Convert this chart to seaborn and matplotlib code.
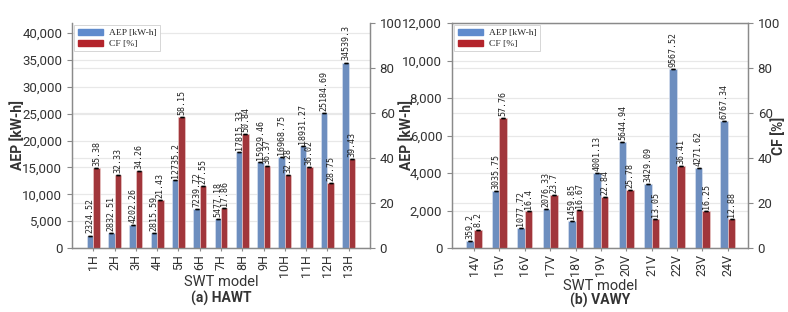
import matplotlib
matplotlib.use("Agg")
import matplotlib.pyplot as plt
import seaborn as sns
import pandas as pd
from matplotlib.patches import Patch

# ---- data ----
hawt_models = ["1H", "2H", "3H", "4H", "5H", "6H", "7H", "8H", "9H", "10H", "11H", "12H", "13H"]
hawt_aep = [2324.52, 2832.51, 4202.26, 2815.59, 12735.2, 7239.72, 5477.18, 17815.33,
            15929.46, 16968.75, 18931.27, 25184.69, 34539.3]
hawt_cf = [35.38, 32.33, 34.26, 21.43, 58.15, 27.55, 17.86, 50.84, 36.37, 32.28, 36.02, 28.75, 39.43]

vawt_models = ["14V", "15V", "16V", "17V", "18V", "19V", "20V", "21V", "22V", "23V", "24V"]
vawt_aep = [359.2, 3035.75, 1077.72, 2076.33, 1459.85, 4001.13, 5644.94, 3429.09, 9567.52, 4271.62, 6767.34]
vawt_cf = [8.2, 57.76, 16.4, 23.7, 16.67, 22.84, 25.78, 13.05, 36.41, 16.25, 12.88]

series_names = ["AEP [kW-h]", "CF [%]"]
panel_titles = ["(a) HAWT", "(b) VAWY"]

BLUE = "#5f8bcd"
RED = "#b3242b"
SPINE = "#8a8a8a"
TXT = "#333333"
GRID = "#e8e8e8"

sns.set_style("white")
plt.rcParams["font.family"] = ["Roboto", "DejaVu Sans"]

fig = plt.figure(figsize=(7.88, 3.12), dpi=100)
ax_a = fig.add_axes([72/788, 1-248/312, (370-72)/788, (248-23)/312])
ax_b = fig.add_axes([452/788, 1-248/312, (748-452)/788, (248-23)/312])


def panel(ax, models, aep, cf, ymax, yticks, xlim, title, show_cf_label, top_spine, xlabel_y, title_y):
    df_aep = pd.DataFrame({"model": models, "value": aep, "series": series_names[0]})
    df_cf = pd.DataFrame({"model": models, "value": cf, "series": series_names[1]})
    ax2 = ax.twinx()
    sns.barplot(data=df_aep, x="model", y="value", hue="series", hue_order=series_names,
                order=models, dodge=True, width=0.6, palette=[BLUE, RED], ax=ax,
                edgecolor="#dfe6f3", linewidth=0.4, legend=False, zorder=2)
    sns.barplot(data=df_cf, x="model", y="value", hue="series", hue_order=series_names,
                order=models, dodge=True, width=0.6, palette=[BLUE, RED], ax=ax2,
                edgecolor="#f0d0d0", linewidth=0.4, legend=False, zorder=2)
    ax.set_ylim(0, ymax)
    ax2.set_ylim(0, 100)
    ax.set_xlim(*xlim)
    ax.set_yticks(yticks)
    ax.set_yticklabels([f"{t:,}" for t in yticks])
    ax2.set_yticks([0, 20, 40, 60, 80, 100])

    for a, vals in ((ax, aep), (ax2, cf)):
        for cont in a.containers:
            if len(cont) == len(vals):
                xs = [p.get_x() + p.get_width()/2 for p in cont]
                hs = [p.get_height() for p in cont]
                a.errorbar(xs, hs, yerr=[0]*len(xs), fmt="none", ecolor="black",
                           capsize=1.3, capthick=1.0, zorder=3)
                a.bar_label(cont, labels=[str(v) for v in vals], rotation=90, padding=1.5,
                            fontsize=6, family="DejaVu Sans Mono", color="#222222")

    # gridlines (left ticks + right ticks)
    ax.grid(False)
    ax2.grid(False)
    for t in yticks:
        ax.axhline(t, color=GRID, lw=0.9, zorder=0)
    for t in [20, 40, 60, 80]:
        ax.axhline(t/100*ymax, color=GRID, lw=0.9, zorder=0)

    for a in (ax, ax2):
        for s in a.spines.values():
            s.set_color(SPINE)
            s.set_linewidth(0.9)
        a.spines["top"].set_visible(top_spine)
        a.tick_params(axis="both", colors=SPINE, labelcolor=TXT, labelsize=9.5,
                      length=3.5, width=0.8, direction="out")
    ax.tick_params(axis="y", left=True)
    ax2.tick_params(axis="y", right=True)
    ax.tick_params(axis="x", bottom=True, rotation=90, labelsize=9, length=2.5, pad=2)
    ax.set_xlabel("SWT model", fontsize=10.5, color=TXT)
    ax.xaxis.set_label_coords(0.5, xlabel_y)
    ax.set_ylabel("AEP [kW-h]", fontsize=10, color=TXT, fontweight="bold")
    if show_cf_label:
        ax2.set_ylabel("CF [%]", fontsize=10, color=TXT, fontweight="bold")
        ax2.yaxis.set_label_coords(1.08, 0.5)
    else:
        ax2.set_ylabel("")
    ax.text(0.5, title_y, title, transform=ax.transAxes, ha="center", va="center",
            fontsize=10, fontweight="bold", color=TXT)

    handles = [Patch(facecolor=BLUE, edgecolor=BLUE), Patch(facecolor=RED, edgecolor=RED)]
    leg = ax2.legend(handles, series_names, loc="upper left", bbox_to_anchor=(0.0, 1.0),
                     prop={"family": "Liberation Serif", "size": 6.8}, fancybox=False,
                     framealpha=1, edgecolor="#d0d0d0", handlelength=2.7, handleheight=0.6,
                     borderpad=0.35, labelspacing=0.3, handletextpad=0.6,
                     borderaxespad=0.25)
    leg.get_frame().set_linewidth(0.6)
    return ax2


panel(ax_a, hawt_models, hawt_aep, hawt_cf, 41900, list(range(0, 40001, 5000)),
      (-1.0, 13.0), panel_titles[0], False, False, -0.118, -0.225)
panel(ax_b, vawt_models, vawt_aep, vawt_cf, 12000, list(range(0, 12001, 2000)),
      (-0.87, 10.8), panel_titles[1], True, True, -0.14, -0.235)

ax_a.yaxis.set_label_coords(-0.158, 0.5)
ax_b.yaxis.set_label_coords(-0.128, 0.5)

fig.savefig("out.png", dpi=100)
